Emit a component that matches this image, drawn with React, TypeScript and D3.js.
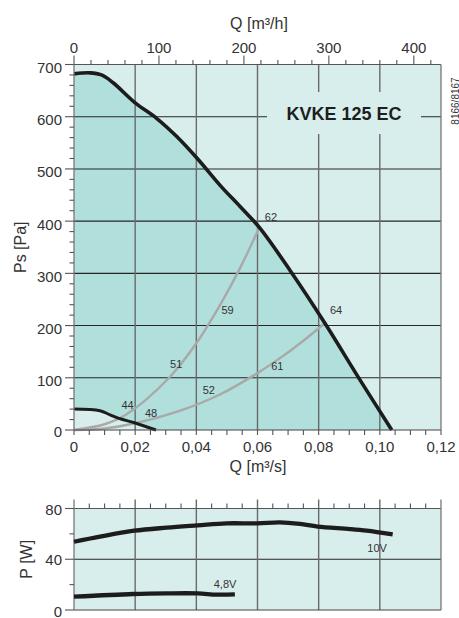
import React from "react";
import * as d3 from "d3";

const W = 459;
const H = 618;
const FONT = "'Liberation Sans', Arial, Helvetica, sans-serif";

// Fan curve at 10 V: airflow Q [m³/s] and static pressure Ps [Pa]
const fan10Q = [0, 0.0052, 0.009, 0.0128, 0.0199, 0.027, 0.0336, 0.0406, 0.0477, 0.0543, 0.0606, 0.0706, 0.0821, 0.0935, 0.1039];
const fan10Ps = [682, 684, 680, 665, 627, 597, 562, 518, 469, 428, 388, 306, 204, 96, 0];

// Fan curve at 4.8 V
const fan48Q = [0, 0.0085, 0.0118, 0.0156, 0.02, 0.0268];
const fan48Ps = [40, 37, 29, 20.5, 13.5, 0];

// System curves
const sysAQ = [0, 0.01, 0.0172, 0.0314, 0.0401, 0.0483, 0.0543, 0.0606];
const sysAPs = [0, 11, 30, 102, 167, 245, 310, 388];
const sysBQ = [0, 0.01, 0.02, 0.0347, 0.0477, 0.0597, 0.0684, 0.075, 0.0821];
const sysBPs = [0, 3, 13, 37, 68, 108, 142, 171, 205];

// Sound level annotations [dB(A)] with their Q / Ps anchor
const soundText = ["44", "48", "51", "52", "59", "61", "62", "64"];
const soundQ = [0.0175, 0.0252, 0.0334, 0.0441, 0.0502, 0.0665, 0.0644, 0.0857];
const soundPs = [48, 33, 126, 77, 230, 122, 408, 230];

// Power input P [W]
const pow10Q = [0, 0.0085, 0.0197, 0.0303, 0.0404, 0.0499, 0.0599, 0.0674, 0.0739, 0.0797, 0.0902, 0.0957, 0.1042];
const pow10P = [53.8, 57.8, 62.5, 64.9, 66.7, 68.3, 68.3, 69.1, 67.8, 65.7, 63.8, 62.5, 59.6];
const pow48Q = [0, 0.0194, 0.0303, 0.0404, 0.0467, 0.0526];
const pow48P = [10.5, 12.6, 13.1, 13.1, 12.1, 12.3];
const powText = ["10V", "4,8V"];
const powTextQ = [0.0991, 0.0494];
const powTextP = [48.9, 20.5];

// Axis ticks
const qTicks = [0, 0.02, 0.04, 0.06, 0.08, 0.1, 0.12];
const qhTicks = [0, 100, 200, 300, 400];
const psTicks = [0, 100, 200, 300, 400, 500, 600, 700];
const pTicks = [0, 40, 80];

const modelName = "KVKE 125 EC";
const docRef = "8166/8167";

const L = 74;
const R = 441;

const x = d3.scaleLinear().domain([0, 0.12]).range([L, R]);
const xh = d3.scaleLinear().domain([0, 0.12 * 3600]).range([L, R]);
const y = d3.scaleLinear().domain([0, 700]).range([430, 64.5]);
const yP = d3.scaleLinear().domain([0, 80]).range([610, 508.5]);

const zip = (a: number[], b: number[]) => a.map((v, i) => [v, b[i]] as [number, number]);

const smooth = d3.curveCatmullRom.alpha(0.5);

const lineMain = d3
  .line<[number, number]>()
  .x((d) => x(d[0]))
  .y((d) => y(d[1]))
  .curve(smooth);
const areaMain = d3
  .area<[number, number]>()
  .x((d) => x(d[0]))
  .y0(y(0))
  .y1((d) => y(d[1]))
  .curve(smooth);
const linePow = d3
  .line<[number, number]>()
  .x((d) => x(d[0]))
  .y((d) => yP(d[1]))
  .curve(smooth);

const fmtQ = (v: number) => (v === 0 ? "0" : v.toFixed(2).replace(".", ","));
const range = (a: number, b: number, s: number) => d3.range(a, b + s / 2, s);

const LIGHT = "#d8eeec";
const DARK = "#b1dfdb";
const GRID_V = "#6a6a6a";
const GRID_H = "#262626";
const TXT = "#333333";
const CURVE = "#1c1c1c";
const SYS = "#a9a9a9";

export default function App() {
  const fan10 = zip(fan10Q, fan10Ps);
  const fan48 = zip(fan48Q, fan48Ps);
  const box = { x0: 267, x1: 421, y0: 92, y1: 134 };

  return (
    <div style={{ position: "absolute", left: 0, top: 0 }}>
      <svg width={W} height={H} style={{ display: "block", fontFamily: FONT }}>
        <rect x={0} y={0} width={W} height={H} fill="#ffffff" />

        {/* ---------- pressure chart ---------- */}
        <rect x={L} y={y(700)} width={R - L} height={y(0) - y(700)} fill={LIGHT} />
        <path d={areaMain(fan10) || ""} fill={DARK} />
        <path d={areaMain(fan48) || ""} fill={LIGHT} />

        {psTicks.slice(1, -1).map((v) => (
          <line key={"h" + v} x1={L} x2={R} y1={y(v)} y2={y(v)} stroke={GRID_H} strokeWidth={1.1} />
        ))}
        {qTicks.slice(1, -1).map((v) => (
          <line key={"v" + v} x1={x(v)} x2={x(v)} y1={y(700)} y2={y(0)} stroke={GRID_V} strokeWidth={1.4} />
        ))}

        {/* model name plate */}
        <rect x={box.x0} y={box.y0} width={box.x1 - box.x0} height={box.y1 - box.y0} fill={LIGHT} />
        <text
          x={(box.x0 + box.x1) / 2}
          y={114}
          textAnchor="middle"
          dominantBaseline="central"
          fontSize={18}
          fontWeight="bold"
          fill="#1e1e1e"
        >
          {modelName}
        </text>

        {/* system curves */}
        <path d={lineMain(zip(sysAQ, sysAPs)) || ""} fill="none" stroke={SYS} strokeWidth={2.4} />
        <path d={lineMain(zip(sysBQ, sysBPs)) || ""} fill="none" stroke={SYS} strokeWidth={2.4} />

        {/* fan curves */}
        <path d={lineMain(fan10) || ""} fill="none" stroke={CURVE} strokeWidth={3.6} strokeLinejoin="round" />
        <path d={lineMain(fan48) || ""} fill="none" stroke={CURVE} strokeWidth={3} strokeLinejoin="round" />

        {/* frame */}
        <line x1={L} x2={R} y1={y(700)} y2={y(700)} stroke="#555" strokeWidth={1.2} />
        <line x1={L} x2={R} y1={y(0)} y2={y(0)} stroke="#444" strokeWidth={1.2} />
        <line x1={L} x2={L} y1={y(700)} y2={y(0)} stroke="#777" strokeWidth={1.3} />
        <line x1={R} x2={R} y1={y(700)} y2={y(0)} stroke="#777" strokeWidth={1.3} />

        {/* top axis, m³/h */}
        {range(0, 420, 20).map((v) => (
          <line
            key={"th" + v}
            x1={xh(v)}
            x2={xh(v)}
            y1={y(700)}
            y2={y(700) - (v % 100 === 0 ? 9 : 4.5)}
            stroke="#555"
            strokeWidth={1.1}
          />
        ))}
        {qhTicks.map((v) => (
          <text key={"tl" + v} x={xh(v)} y={47.5} textAnchor="middle" dominantBaseline="central" fontSize={15} fill={TXT}>
            {v}
          </text>
        ))}
        <text x={259} y={23} textAnchor="middle" dominantBaseline="central" fontSize={16} fill={TXT}>
          Q [m³/h]
        </text>

        {/* left axis, Pa */}
        {range(0, 700, 20).map((v) => (
          <line
            key={"lt" + v}
            x1={L}
            x2={L - (v % 100 === 0 ? 9 : 4.5)}
            y1={y(v)}
            y2={y(v)}
            stroke="#555"
            strokeWidth={1.1}
          />
        ))}
        {psTicks.map((v) => (
          <text
            key={"ll" + v}
            x={62}
            y={y(v) + (v === 0 ? 1 : 3)}
            textAnchor="end"
            dominantBaseline="central"
            fontSize={15}
            fill={TXT}
          >
            {v}
          </text>
        ))}
        <text
          transform={`translate(20,${(y(0) + y(700)) / 2}) rotate(-90)`}
          textAnchor="middle"
          dominantBaseline="central"
          fontSize={16}
          fill={TXT}
        >
          Ps [Pa]
        </text>

        {/* bottom axis, m³/s */}
        {range(0, 0.12, 0.005).map((v) => (
          <line key={"bt" + v} x1={x(v)} x2={x(v)} y1={y(0)} y2={y(0) + 5} stroke="#555" strokeWidth={1.1} />
        ))}
        {qTicks.map((v) => (
          <text key={"bl" + v} x={x(v)} y={446} textAnchor="middle" dominantBaseline="central" fontSize={15} fill={TXT}>
            {fmtQ(v)}
          </text>
        ))}
        <text x={258} y={466} textAnchor="middle" dominantBaseline="central" fontSize={16} fill={TXT}>
          Q [m³/s]
        </text>

        {/* sound level labels */}
        {soundText.map((t, i) => (
          <text
            key={"s" + t}
            x={x(soundQ[i])}
            y={y(soundPs[i])}
            textAnchor="middle"
            dominantBaseline="central"
            fontSize={11}
            fill={TXT}
          >
            {t}
          </text>
        ))}

        <text
          transform={`translate(455,101) rotate(-90)`}
          textAnchor="middle"
          dominantBaseline="central"
          fontSize={10}
          fill={TXT}
        >
          {docRef}
        </text>

        {/* ---------- power chart ---------- */}
        <rect x={L} y={yP(80)} width={R - L} height={yP(0) - yP(80)} fill={LIGHT} />
        <line x1={L} x2={R} y1={yP(40)} y2={yP(40)} stroke={GRID_H} strokeWidth={1.1} />
        {qTicks.slice(1, -1).map((v) => (
          <line key={"pv" + v} x1={x(v)} x2={x(v)} y1={yP(80) - 9} y2={yP(0)} stroke={GRID_V} strokeWidth={1.4} />
        ))}
        {range(0, 0.12, 0.005)
          .filter((v) => Math.abs(v / 0.02 - Math.round(v / 0.02)) > 1e-6)
          .map((v) => (
            <line key={"pt" + v} x1={x(v)} x2={x(v)} y1={yP(80)} y2={yP(80) - 5} stroke="#555" strokeWidth={1.1} />
          ))}
        <line x1={L} x2={R} y1={yP(80)} y2={yP(80)} stroke="#555" strokeWidth={1.2} />
        <line x1={L} x2={R} y1={yP(0)} y2={yP(0)} stroke="#444" strokeWidth={1.2} />
        <line x1={L} x2={L} y1={yP(80) - 9} y2={yP(0)} stroke="#777" strokeWidth={1.3} />
        <line x1={R} x2={R} y1={yP(80) - 9} y2={yP(0)} stroke="#777" strokeWidth={1.3} />

        {range(0, 80, 20).map((v) => (
          <line
            key={"plt" + v}
            x1={L}
            x2={L - (v % 40 === 0 ? 9 : 4.5)}
            y1={yP(v)}
            y2={yP(v)}
            stroke="#555"
            strokeWidth={1.1}
          />
        ))}
        {pTicks.map((v) => (
          <text
            key={"pl" + v}
            x={62}
            y={yP(v) + (v === 0 ? 1 : 0.5)}
            textAnchor="end"
            dominantBaseline="central"
            fontSize={15}
            fill={TXT}
          >
            {v}
          </text>
        ))}
        <text
          transform={`translate(26,${(yP(0) + yP(80)) / 2}) rotate(-90)`}
          textAnchor="middle"
          dominantBaseline="central"
          fontSize={16}
          fill={TXT}
        >
          P [W]
        </text>

        <path d={linePow(zip(pow10Q, pow10P)) || ""} fill="none" stroke={CURVE} strokeWidth={4.3} strokeLinecap="butt" />
        <path d={linePow(zip(pow48Q, pow48P)) || ""} fill="none" stroke={CURVE} strokeWidth={4.3} strokeLinecap="butt" />
        {powText.map((t, i) => (
          <text
            key={"pw" + t}
            x={x(powTextQ[i])}
            y={yP(powTextP[i])}
            textAnchor="middle"
            dominantBaseline="central"
            fontSize={11}
            fill={TXT}
          >
            {t}
          </text>
        ))}
      </svg>
    </div>
  );
}
